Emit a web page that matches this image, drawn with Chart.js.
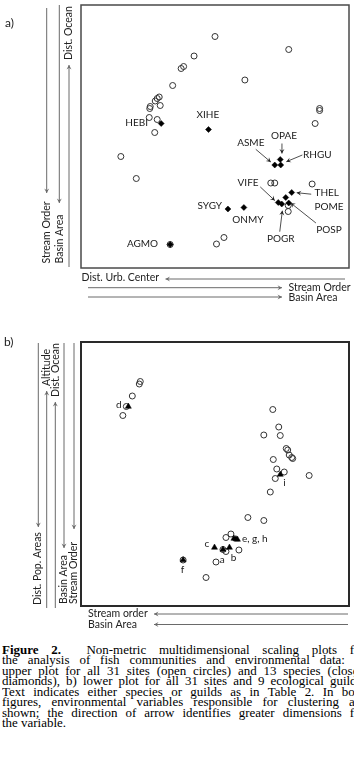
<!DOCTYPE html>
<html><head><meta charset="utf-8">
<script src="https://cdn.jsdelivr.net/npm/chart.js@4"></script>
<style>
html,body{margin:0;padding:0;background:#fff;width:354px;height:775px;overflow:hidden;position:relative;}
canvas{position:absolute;left:0;}
#caption{position:absolute;left:2px;top:645px;width:336px;transform:scaleX(1.08);transform-origin:0 0;font-family:"Liberation Serif","Times New Roman",serif;font-size:12px;line-height:10.47px;color:#000;}
#caption div{text-align:justify;text-align-last:justify;white-space:nowrap;}
#caption div.last{text-align-last:left;}
</style></head><body>
<canvas id="ca" width="354" height="305" style="top:0px"></canvas>
<canvas id="cb" width="354" height="300" style="top:330px"></canvas>
<div id="caption">
<div><b>Figure 2.</b>&nbsp; Non-metric multidimensional scaling plots for</div>
<div>the analysis of fish communities and environmental data: a)</div>
<div>upper plot for all 31 sites (open circles) and 13 species (closed</div>
<div>diamonds), b) lower plot for all 31 sites and 9 ecological guilds.</div>
<div>Text indicates either species or guilds as in Table 2. In both</div>
<div>figures, environmental variables responsible for clustering are</div>
<div>shown; the direction of arrow identifies greater dimensions for</div>
<div class="last">the variable.</div>
</div>
<script>
// ---------- Plot a) : sites (NMDS scores) ----------
const sitesA_x = [0.00,-0.21,-0.34,-0.315,-0.425,-0.56,-0.58,-0.60,-0.65,-0.655,-0.55,-0.66,-0.58,-0.605,-0.945,-0.79,-0.45,0.015,0.09,0.74,0.30,1.05,1.05,1.005,0.56,0.60,0.975,0.735,0.735];
const sitesA_y = [1.00,0.805,0.68,0.70,0.51,0.395,0.38,0.355,0.30,0.28,0.31,0.19,0.17,0.04,-0.20,-0.42,-1.08,-1.075,-1.01,0.87,0.565,0.28,0.26,0.13,-0.465,-0.465,-0.475,-0.69,-0.75];
// Plot a) : species
const species   = ['HEBI','XIHE','ASME','RHGU','OPAE','VIFE','POGR','POME','POSP','THEL','SYGY','ONMY','AGMO'];
const species_x = [-0.54,-0.065,0.60,0.66,0.655,0.635,0.67,0.71,0.74,0.77,0.13,0.29,-0.45];
const species_y = [0.13,0.07,-0.285,-0.285,-0.23,-0.66,-0.675,-0.61,-0.665,-0.56,-0.725,-0.71,-1.08];

// ---------- Plot b) : sites ----------
const sitesB_x = [-0.75,-0.76,-0.83,-0.89,-0.925,0.58,0.64,0.49,0.655,0.715,0.73,0.745,0.77,0.78,0.585,0.62,0.695,0.605,0.945,0.555,0.33,0.49,0.16,0.11,0.24,0.11,0.01,-0.09,-0.32,0.08];
const sitesB_y = [0.925,0.90,0.78,0.675,0.585,0.645,0.47,0.39,0.385,0.255,0.24,0.19,0.165,0.155,0.145,0.05,0.02,-0.045,-0.015,-0.18,-0.435,-0.465,-0.60,-0.635,-0.76,-0.775,-0.88,-1.035,-0.86,-0.755];
// Plot b) : guilds
const guilds   = ['a','b','c','d','e','f','g','h','i'];
const guilds_x = [0.08,0.145,-0.005,-0.87,0.19,-0.32,0.21,0.225,0.655];
const guilds_y = [-0.755,-0.735,-0.735,0.675,-0.645,-0.86,-0.65,-0.655,-0.005];

// ---------- layout (pixel offsets of labels / pointer arrows) ----------
const layoutA = {
  HEBI:{dx:-24.6,dy:-0.6}, XIHE:{dx:-0.7,dy:-15},
  ASME:{dx:-24,dy:-22.7,a:[-19,-15.7,-4,-3]},
  OPAE:{dx:3.7,dy:-23.3,a:[1.7,-16,1.7,-6]},
  RHGU:{dx:36.6,dy:-10,a:[21.6,-10,5.6,-3.3]},
  VIFE:{dx:-30.2,dy:-20,a:[-18,-15.6,-3.5,-2]},
  THEL:{dx:35,dy:0,a:[19.5,1.7,5,0.2]},
  POME:{dx:43.2,dy:9},
  POSP:{dx:40.2,dy:26.3,a:[27.2,20,2,0]},
  POGR:{dx:-1,dy:34.3,a:[-2,27.7,0.6,6.7]},
  SYGY:{dx:-18.2,dy:-3}, ONMY:{dx:4,dy:12}, AGMO:{dx:-27.7,dy:-0.6}
};
const layoutB = {
  a:{dx:-0.8,dy:9.8}, b:{dx:4,dy:10}, c:{dx:-7.5,dy:-4.2}, d:{dx:-9.4,dy:-1.7},
  f:{dx:-0.6,dy:10}, i:{dx:4.3,dy:8.2}, h:{dx:4.5,dy:-1.2,text:'e, g, h',align:'left'}
};

const SANS = 'Lato, "Liberation Sans", sans-serif';

function head(ctx,x1,y1,x2,y2,len,w){
  const ang=Math.atan2(y2-y1,x2-x1);
  ctx.beginPath();
  ctx.moveTo(x2,y2);
  ctx.lineTo(x2-len*Math.cos(ang)+w*Math.sin(ang), y2-len*Math.sin(ang)-w*Math.cos(ang));
  ctx.lineTo(x2-len*0.6*Math.cos(ang), y2-len*0.6*Math.sin(ang));
  ctx.lineTo(x2-len*Math.cos(ang)-w*Math.sin(ang), y2-len*Math.sin(ang)+w*Math.cos(ang));
  ctx.closePath(); ctx.fill();
}
function arrow(ctx,x1,y1,x2,y2,color,lw){
  ctx.save(); ctx.strokeStyle=color; ctx.fillStyle=color; ctx.lineWidth=lw||1;
  ctx.beginPath(); ctx.moveTo(x1,y1); ctx.lineTo(x2,y2); ctx.stroke();
  head(ctx,x1,y1,x2,y2,4.5,2.5);
  ctx.restore();
}
function vtext(ctx,txt,x,y){ // rotated, reading bottom to top, starting at y
  ctx.save(); ctx.translate(x,y); ctx.rotate(-Math.PI/2);
  ctx.textAlign='left'; ctx.textBaseline='middle'; ctx.fillText(txt,0,0); ctx.restore();
}

function makeChart(id, sx, sy, mx, my, mStyle, mRadius, pad, xr, yr, plugin){
  return new Chart(document.getElementById(id), {
    type:'scatter',
    data:{datasets:[
      {data:mx.map((v,i)=>({x:v,y:my[i]})), pointStyle:mStyle, pointRadius:mRadius,
       backgroundColor:'#000', borderColor:'#000', borderWidth:0.5, order:0},
      {data:sx.map((v,i)=>({x:v,y:sy[i]})), pointStyle:'circle', pointRadius:3,
       backgroundColor:'rgba(0,0,0,0)', borderColor:'#333', borderWidth:1, order:1}
    ]},
    options:{
      responsive:false, animation:false, devicePixelRatio:1,
      layout:{padding:pad},
      plugins:{legend:{display:false}, tooltip:{enabled:false}},
      scales:{x:{type:'linear',display:false,min:-xr,max:xr},
              y:{type:'linear',display:false,min:-yr,max:yr}}
    },
    plugins:[plugin]
  });
}

// ----- Plot a -----
const plugA = {id:'decoA', afterDraw(chart){
  const ctx=chart.ctx, ca=chart.chartArea, X=chart.scales.x, Y=chart.scales.y;
  ctx.save();
  ctx.strokeStyle='#4a4a4a'; ctx.lineWidth=1.5;
  ctx.strokeRect(ca.left,ca.top,ca.right-ca.left,ca.bottom-ca.top);
  ctx.fillStyle='#1a1a1a'; ctx.font='10px '+SANS; ctx.textAlign='center'; ctx.textBaseline='middle';
  species.forEach((s,i)=>{
    const L=layoutA[s]; if(!L) return;
    const px=X.getPixelForValue(species_x[i]), py=Y.getPixelForValue(species_y[i]);
    ctx.fillText(s,px+L.dx,py+L.dy);
    if(L.a) arrow(ctx,px+L.a[0],py+L.a[1],px+L.a[2],py+L.a[3],'#222',0.8);
  });
  const g='#6a6a6a';
  ctx.fillStyle='#222';
  ctx.font='12px '+SANS; ctx.textAlign='left'; ctx.fillText('a)',5,23);
  ctx.font='10.5px '+SANS;
  arrow(ctx,46.7,8,46.7,193,g,1);  vtext(ctx,'Stream Order',46.7,263.5);
  arrow(ctx,59.3,5,59.3,203,g,1);  vtext(ctx,'Basin Area',59.3,263.5);
  arrow(ctx,69,267,69,65,g,1);     vtext(ctx,'Dist. Ocean',69,60);
  ctx.textAlign='left'; ctx.textBaseline='middle';
  ctx.fillText('Dist. Urb. Center',81.5,278);
  arrow(ctx,345,279,165.5,279,g,1);
  arrow(ctx,88,287.7,282,287.7,g,1); ctx.fillText('Stream Order',288.5,288);
  arrow(ctx,88,297,282,297,g,1);     ctx.fillText('Basin Area',288.5,297.5);
  ctx.restore();
}};
makeChart('ca', sitesA_x, sitesA_y, species_x, species_y, 'rectRot', 3,
  {left:81,top:5,right:4,bottom:37}, 1.345, 1.315, plugA);

// ----- Plot b -----
const plugB = {id:'decoB', afterDraw(chart){
  const ctx=chart.ctx, ca=chart.chartArea, X=chart.scales.x, Y=chart.scales.y;
  ctx.save();
  ctx.strokeStyle='#2a2a2a'; ctx.lineWidth=2;
  ctx.strokeRect(ca.left,ca.top,ca.right-ca.left,ca.bottom-ca.top);
  ctx.fillStyle='#1a1a1a'; ctx.font='10px '+SANS; ctx.textBaseline='middle';
  guilds.forEach((s,i)=>{
    const L=layoutB[s]; if(!L) return;
    const px=X.getPixelForValue(guilds_x[i]), py=Y.getPixelForValue(guilds_y[i]);
    ctx.textAlign=L.align||'center';
    ctx.fillText(L.text||s,px+L.dx,py+L.dy);
  });
  const g='#6a6a6a', o=-330;
  ctx.fillStyle='#222';
  ctx.font='12px '+SANS; ctx.textAlign='left'; ctx.fillText('b)',4,342+o);
  ctx.font='10.5px '+SANS;
  arrow(ctx,38.3,343+o,38.3,527+o,g,1); vtext(ctx,'Dist. Pop. Areas',37.5,605+o);
  arrow(ctx,46.7,608+o,46.7,391+o,g,1); vtext(ctx,'Altitude',46.7,386+o);
  arrow(ctx,55.3,608+o,55.3,402+o,g,1); vtext(ctx,'Dist. Ocean',55.5,397+o);
  arrow(ctx,64,343+o,64,548+o,g,1);     vtext(ctx,'Basin Area',64,604+o);
  arrow(ctx,74,343+o,74,529+o,g,1);     vtext(ctx,'Stream Order',74,604+o);
  ctx.textAlign='left'; ctx.textBaseline='middle';
  ctx.fillText('Stream order',88,614+o);  arrow(ctx,348,614+o,154,614+o,g,1);
  ctx.fillText('Basin Area',88,624.5+o);  arrow(ctx,348,624.5+o,154,624.5+o,g,1);
  ctx.restore();
}};
makeChart('cb', sitesB_x, sitesB_y, guilds_x, guilds_y, 'triangle', 3.5,
  {left:81,top:12,right:4,bottom:24}, 1.345, 1.32, plugB);
</script>
</body></html>
